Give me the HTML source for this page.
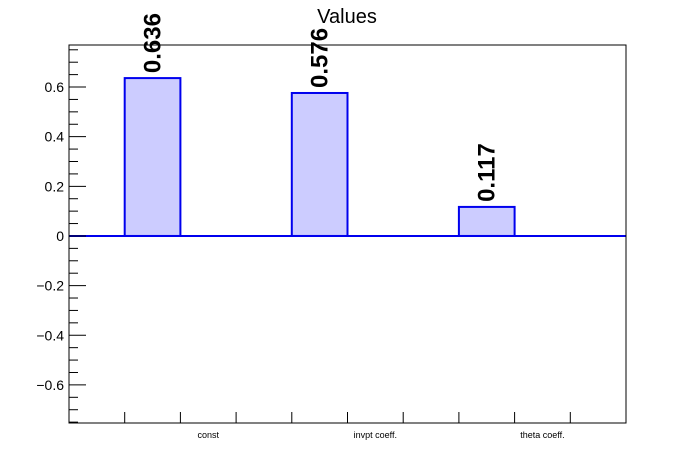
<!DOCTYPE html>
<html><head><meta charset="utf-8"><style>
body{margin:0;background:#fff;}
svg{display:block;font-family:"Liberation Sans",sans-serif;}
</style></head><body>
<svg id="chart" width="696" height="472">
<text x="347" y="23" font-size="20" text-anchor="middle">Values</text>
<g id="g"></g>
</svg>
<script>
const categories = ["const", "invpt coeff.", "theta coeff."];
const values = [0.636, 0.576, 0.117];
const valueLabels = ["0.636", "0.576", "0.117"];
const yTicks = [-0.6, -0.4, -0.2, 0, 0.2, 0.4, 0.6];
const yTickLabels = ["\u22120.6", "\u22120.4", "\u22120.2", "0", "0.2", "0.4", "0.6"];

const L = 69, R = 626, T = 45, B = 423;
const yMin = -0.7535, yMax = 0.7693;
const y = v => B - (v - yMin) / (yMax - yMin) * (B - T);
const u = (R - L) / 10;
const x = i => L + u * (1 + 3 * i);
const NS = "http://www.w3.org/2000/svg";
const g = document.getElementById('g');
function el(tag, attrs, parent) {
  const e = document.createElementNS(NS, tag);
  for (const k in attrs) e.setAttribute(k, attrs[k]);
  (parent || g).appendChild(e);
  return e;
}
values.forEach((v, i) => {
  const x0 = x(i), w = u;
  const r = el('rect', {x: x0, y: Math.min(y(v), y(0)), width: w, height: Math.abs(y(0) - y(v)), fill: '#ccccff', stroke: '#0000ee', 'stroke-width': 2});
  
  
  const cx = x0 + w / 2 + 8, ty = y(v) - 5;
  const t = el('text', {x: cx, y: ty, 'font-size': 24, 'font-weight': 'bold', transform: `rotate(-90 ${cx} ${ty})`});
  t.textContent = valueLabels[i];
  
  
  const c = el('text', {x: x0 + 1.5 * u, y: 438, 'font-size': 9, 'text-anchor': 'middle'});
  c.textContent = categories[i];
  
  
});
const zl = el('line', {x1: L, x2: R, y1: y(0), y2: y(0), stroke: '#0000ee', 'stroke-width': 2});


const fr = el('rect', {x: L, y: T, width: R - L, height: B - T, fill: 'none', stroke: '#000', 'stroke-width': 1});


for (let k = -15; k <= 15; k++) {
  const v = k * 0.05;
  if (v < yMin || v > yMax) continue;
  const major = k % 4 === 0;
  const tk = el('line', {x1: L, x2: L + (major ? 17 : 9), y1: y(v), y2: y(v), stroke: '#000'});
  
  
}
yTicks.forEach((v, i) => {
  const t = el('text', {x: 64, y: y(v) + 5, 'font-size': 14, 'text-anchor': 'end'});
  t.textContent = yTickLabels[i];
  
  
});
for (let k = 1; k < 10; k++) {
  const xx = L + k * u;
  const tk = el('line', {x1: xx, x2: xx, y1: B, y2: B - 11, stroke: '#000'});
  
  
}
</script>
</body></html>
